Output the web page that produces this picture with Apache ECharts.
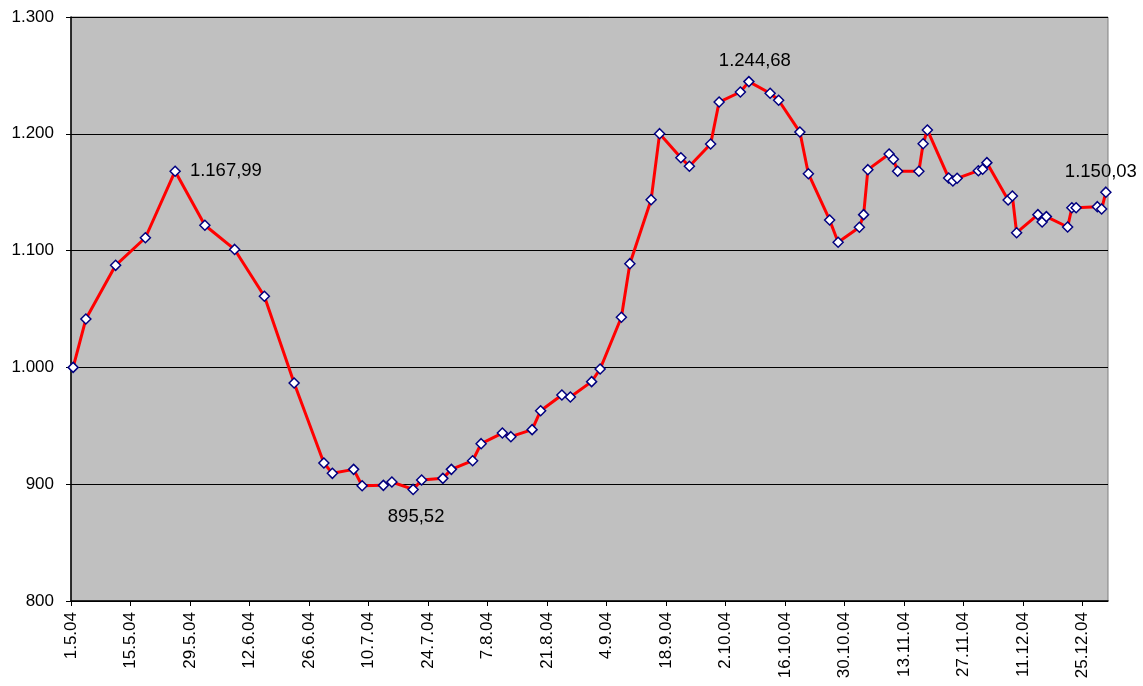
<!DOCTYPE html>
<html>
<head>
<meta charset="utf-8">
<title>Index 2004</title>
<script src="https://cdn.jsdelivr.net/npm/echarts@6/dist/echarts.min.js"></script>
<style>
  html, body { margin: 0; padding: 0; background: #ffffff; }
  #chart { width: 1143px; height: 686px; }
</style>
</head>
<body>
<div id="chart"></div>
<script>
// Trading dates and closing values of the index, May - December 2004
const dates = [
  '2004-05-01', '2004-05-04', '2004-05-11', '2004-05-18', '2004-05-25',
  '2004-06-01', '2004-06-08', '2004-06-15', '2004-06-22', '2004-06-29',
  '2004-07-01', '2004-07-06', '2004-07-08', '2004-07-13', '2004-07-15',
  '2004-07-20', '2004-07-22', '2004-07-27', '2004-07-29', '2004-08-03',
  '2004-08-05', '2004-08-10', '2004-08-12', '2004-08-17', '2004-08-19',
  '2004-08-24', '2004-08-26', '2004-08-31', '2004-09-02', '2004-09-07',
  '2004-09-09', '2004-09-14', '2004-09-16', '2004-09-21', '2004-09-23',
  '2004-09-28', '2004-09-30', '2004-10-05', '2004-10-07', '2004-10-12',
  '2004-10-14', '2004-10-19', '2004-10-21', '2004-10-26', '2004-10-28',
  '2004-11-02', '2004-11-03', '2004-11-04', '2004-11-09', '2004-11-10',
  '2004-11-11', '2004-11-16', '2004-11-17', '2004-11-18', '2004-11-23',
  '2004-11-24', '2004-11-25', '2004-11-30', '2004-12-01', '2004-12-02',
  '2004-12-07', '2004-12-08', '2004-12-09', '2004-12-14', '2004-12-15',
  '2004-12-16', '2004-12-21', '2004-12-22', '2004-12-23', '2004-12-28',
  '2004-12-29', '2004-12-30'
];
const values = [
  1000.00, 1041.4, 1087.4, 1111.0, 1167.99,
  1121.7, 1101.0, 1060.9, 986.6, 918.2,
  909.3, 912.7, 898.7, 899.0, 901.9,
  895.52, 903.6, 905.0, 912.7, 920.1,
  934.7, 943.8, 940.7, 946.7, 962.9,
  976.4, 974.7, 987.8, 998.6, 1042.9,
  1088.8, 1143.6, 1200.1, 1179.5, 1172.2,
  1191.3, 1227.2, 1235.8, 1244.68, 1234.7,
  1228.7, 1201.5, 1165.8, 1126.2, 1107.1,
  1120.0, 1130.8, 1169.3, 1182.7, 1178.2,
  1167.9, 1167.9, 1191.5, 1203.3, 1162.2,
  1159.6, 1161.9, 1168.4, 1169.6, 1175.3,
  1143.3, 1146.7, 1115.3, 1130.8, 1124.5,
  1129.1, 1120.2, 1136.7, 1136.7, 1137.6,
  1135.6, 1150.03
];
// Date labels on the horizontal axis, one every 14 days from 1 May
const xTickLabels = [
  '1.5.04', '15.5.04', '29.5.04', '12.6.04', '26.6.04', '10.7.04',
  '24.7.04', '7.8.04', '21.8.04', '4.9.04', '18.9.04', '2.10.04',
  '16.10.04', '30.10.04', '13.11.04', '27.11.04', '11.12.04', '25.12.04'
];
const yTickValues = [800, 900, 1000, 1100, 1200, 1300];
// Points whose value is written next to them
const labelledDates = ['2004-05-25', '2004-07-20', '2004-10-07', '2004-12-30'];

const DAY = 86400000;
const START = Date.UTC(2004, 4, 1);
const END = Date.UTC(2004, 11, 31);
const TICK_STEP = 14;

// Each date occupies a one-day slot; its point sits at the middle of that slot
function dayPosition(iso) {
  const p = iso.split('-').map(Number);
  return Math.round((Date.UTC(p[0], p[1] - 1, p[2]) - START) / DAY) + 0.5;
}

// German number style: 1.167,99 / 1.300
function formatNumber(v, decimals) {
  const fixed = v.toFixed(decimals);
  const parts = fixed.split('.');
  const intPart = parts[0].replace(/\B(?=(\d{3})+(?!\d))/g, '.');
  return parts.length > 1 ? intPart + ',' + parts[1] : intPart;
}

const FONT = "'Liberation Sans', Arial, sans-serif";

const labelPlacement = {
  '2004-05-25': { position: 'right', distance: 9, offset: [0, 0] },
  '2004-07-20': { position: 'bottom', distance: 12, offset: [3, 0] },
  '2004-10-07': { position: 'top', distance: 5, offset: [6, 0] },
  '2004-12-30': { position: 'top', distance: 5, offset: [-5, 0] }
};

const seriesData = dates.map(function (d, i) {
  const item = { value: [dayPosition(d), values[i]] };
  const lp = labelPlacement[d];
  if (labelledDates.indexOf(d) >= 0 && lp) {
    item.label = {
      show: true,
      position: lp.position,
      distance: lp.distance,
      offset: lp.offset,
      color: '#000000',
      fontFamily: FONT,
      fontSize: 18.5,
      formatter: function (p) { return formatNumber(p.value[1], 2); }
    };
  }
  return item;
});

const xTickDays = xTickLabels.map(function (_, i) { return i * TICK_STEP; });

const chart = echarts.init(document.getElementById('chart'), null, { renderer: 'canvas' });
chart.setOption({
  animation: false,
  backgroundColor: '#ffffff',
  grid: {
    left: 71, right: 35, top: 17, bottom: 85,
    show: true,
    backgroundColor: '#C0C0C0',
    borderColor: '#808080',
    borderWidth: 1,
    containLabel: false
  },
  xAxis: {
    type: 'value',
    min: 0,
    max: Math.round((END - START) / DAY),
    interval: TICK_STEP,
    axisLine: { show: true, lineStyle: { color: '#000000', width: 1.5 } },
    axisTick: {
      show: true, length: 5, inside: false,
      customValues: xTickDays,
      lineStyle: { color: '#000000', width: 1 }
    },
    axisLabel: {
      show: true,
      customValues: xTickDays,
      rotate: 90,
      margin: 11,
      color: '#000000',
      fontFamily: FONT,
      fontSize: 17,
      formatter: function (v) {
        const idx = Math.round(v / TICK_STEP);
        return (v % TICK_STEP === 0 && xTickLabels[idx]) ? xTickLabels[idx] : '';
      }
    },
    splitLine: { show: false }
  },
  yAxis: {
    type: 'value',
    min: yTickValues[0],
    max: yTickValues[yTickValues.length - 1],
    interval: 100,
    axisLine: { show: true, lineStyle: { color: '#000000', width: 1.5 } },
    axisTick: { show: true, length: 5, inside: false, lineStyle: { color: '#000000', width: 1 } },
    axisLabel: {
      margin: 17,
      color: '#000000',
      fontFamily: FONT,
      fontSize: 17,
      formatter: function (v) { return formatNumber(v, 0); }
    },
    splitLine: { show: true, lineStyle: { color: '#000000', width: 1.2 } }
  },
  series: [{
    type: 'line',
    data: seriesData,
    symbol: 'diamond',
    symbolSize: 10,
    showAllSymbol: true,
    lineStyle: { color: '#FF0000', width: 3 },
    itemStyle: { color: '#FFFFFF', borderColor: '#000080', borderWidth: 1.5 },
    z: 3
  }]
});
</script>
</body>
</html>
